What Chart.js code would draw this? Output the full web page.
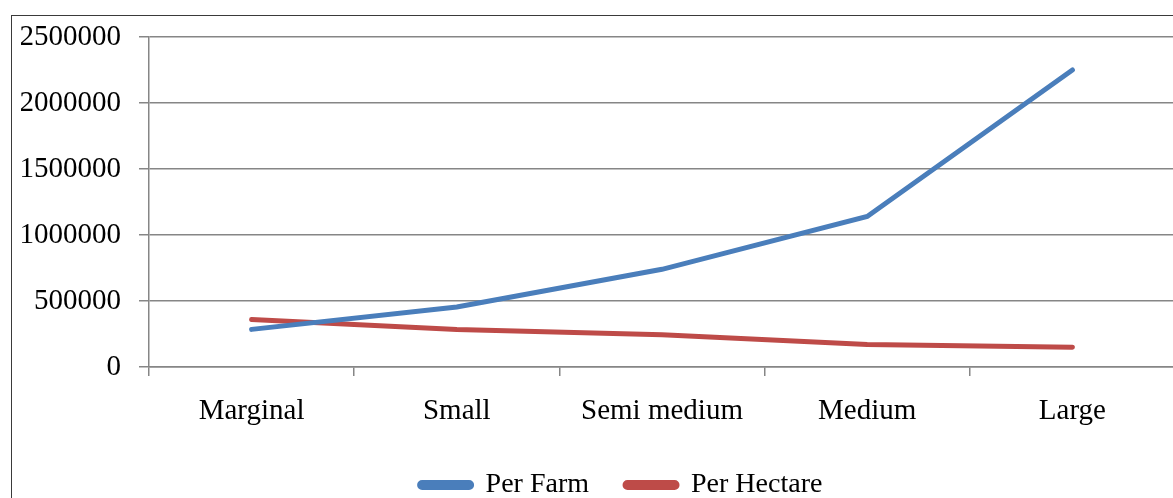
<!DOCTYPE html>
<html>
<head>
<meta charset="utf-8">
<script src="https://cdn.jsdelivr.net/npm/chart.js@4/dist/chart.umd.min.js"></script>
<style>
  html, body { margin: 0; padding: 0; background: #fff; overflow: hidden; }
  #frame { position: absolute; left: 11px; top: 15px; width: 1202px; height: 500px; border: 1px solid #3a3a3a; }
</style>
</head>
<body>
<div id="frame"><canvas id="farmChart" width="1202" height="500"></canvas></div>
<script>
// farm size classes and the two series
const categories = ['Marginal', 'Small', 'Semi medium', 'Medium', 'Large'];
const perFarm = [285000, 455000, 740000, 1140000, 2250000];
const perHectare = [360000, 285000, 245000, 170000, 150000];
const yTicks = [0, 500000, 1000000, 1500000, 2000000, 2500000];

Chart.defaults.font.family = '"Liberation Serif", "Times New Roman", serif';
Chart.defaults.font.size = 29;
Chart.defaults.color = '#000';

// legend in the original sits a little right of the plot's centre
const legendShift = {
    id: 'legendShift',
    afterLayout(chart) {
        chart.legend.left += 23;
        chart.legend.right += 23;
    }
};

const ctx = document.getElementById('farmChart').getContext('2d');
new Chart(ctx, {
    type: 'line',
    data: {
        labels: categories,
        datasets: [{
            label: 'Per Farm',
            data: perFarm,
            borderColor: '#4A7EBB',
            backgroundColor: '#4A7EBB',
            borderWidth: 5,
            pointRadius: 0,
            borderCapStyle: 'round',
            tension: 0
        }, {
            label: 'Per Hectare',
            data: perHectare,
            borderColor: '#BE4B48',
            backgroundColor: '#BE4B48',
            borderWidth: 5,
            pointRadius: 0,
            borderCapStyle: 'round',
            tension: 0
        }]
    },
    plugins: [legendShift],
    options: {
        responsive: false,
        animation: false,
        layout: { padding: { left: 9, right: 39, top: 21, bottom: 7 } },
        plugins: {
            tooltip: { enabled: false },
            legend: {
                position: 'bottom',
                labels: {
                    font: { size: 28 },
                    boxWidth: 52,
                    boxHeight: 5,
                    useBorderRadius: true,
                    borderRadius: 2.5,
                    padding: 36
                }
            }
        },
        scales: {
            x: {
                offset: true,
                grid: { display: true, drawOnChartArea: false, offset: true, tickLength: 9, color: '#868686', lineWidth: 1.5 },
                border: { color: '#868686', width: 1.5 },
                ticks: { padding: 18, maxRotation: 0 },
                afterFit: scale => { scale.height = 68; }
            },
            y: {
                min: 0,
                max: 2500000,
                afterBuildTicks: scale => { scale.ticks = yTicks.map(v => ({ value: v })); },
                grid: { color: '#868686', lineWidth: 1.5, tickLength: 10 },
                border: { color: '#868686', width: 1.5 },
                ticks: { padding: 18, callback: v => String(v) },
                afterFit: scale => { scale.width = 128; scale.paddingTop = 0; }
            }
        }
    }
});
</script>
</body>
</html>
